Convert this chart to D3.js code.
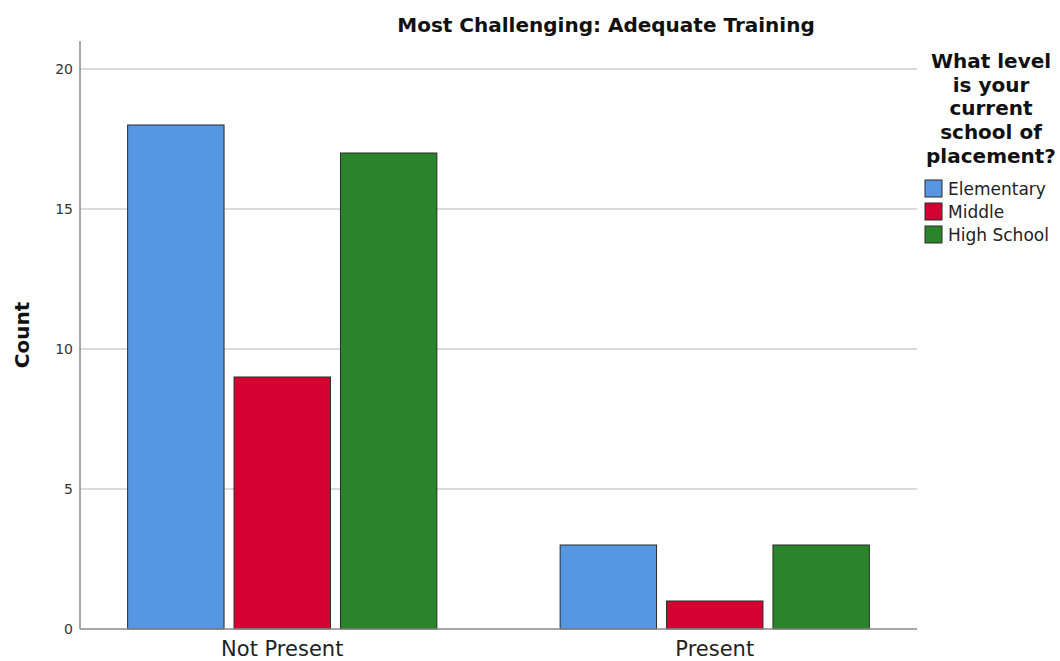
<!DOCTYPE html>
<html>
<head>
<meta charset="utf-8">
<script src="https://cdn.jsdelivr.net/npm/d3@7"></script>
<style>
  body { margin: 0; background: #fff; }
  svg { display: block; font-family: "DejaVu Sans", sans-serif; }
</style>
</head>
<body>
<div id="chart"></div>
<script>
// data
const categories = ['Not Present', 'Present'];
const levels = ['Elementary', 'Middle', 'High School'];
const elementary = [18, 3];
const middle = [9, 1];
const highSchool = [17, 3];
const yTicks = [0, 5, 10, 15, 20];
const colors = ['#5597e3', '#d50032', '#2a852a'];

const series = [elementary, middle, highSchool];
const rows = categories.map((c, i) => ({
  cat: c,
  vals: levels.map((l, j) => ({ level: l, value: series[j][i] }))
}));

const W = 1060, H = 661;
const axisLeft = 80, axisRight = 917, axisTop = 41, axisBottom = 629;

const svg = d3.select('#chart')
  .append('svg')
  .attr('width', W)
  .attr('height', H);

const y = d3.scaleLinear()
  .domain([0, 21])
  .range([axisBottom, axisTop]);

const x = d3.scaleBand()
  .domain(categories)
  .range([66, 931])
  .paddingInner(0.285)
  .paddingOuter(0.1425);

const xSub = d3.scaleBand()
  .domain(levels)
  .range([0, x.bandwidth()])
  .paddingInner(0.094);

const color = d3.scaleOrdinal().domain(levels).range(colors);

// gridlines
svg.append('g')
  .selectAll('line')
  .data(yTicks.filter(d => d > 0))
  .enter()
  .append('line')
  .attr('x1', axisLeft)
  .attr('x2', axisRight)
  .attr('y1', d => y(d))
  .attr('y2', d => y(d))
  .attr('stroke', '#cfcfcf')
  .attr('stroke-width', 1.5);

// bars
svg.append('g')
  .selectAll('g')
  .data(rows)
  .enter()
  .append('g')
  .attr('transform', d => 'translate(' + x(d.cat) + ',0)')
  .selectAll('rect')
  .data(d => d.vals)
  .enter()
  .append('rect')
  .attr('x', d => xSub(d.level))
  .attr('y', d => y(d.value))
  .attr('width', xSub.bandwidth())
  .attr('height', d => y(0) - y(d.value))
  .attr('fill', d => color(d.level))
  .attr('stroke', '#2b2b2b')
  .attr('stroke-width', 1);

// axes lines
svg.append('line')
  .attr('x1', axisLeft).attr('x2', axisLeft)
  .attr('y1', axisTop).attr('y2', axisBottom)
  .attr('stroke', '#8a8a8a').attr('stroke-width', 1.5);
svg.append('line')
  .attr('x1', axisLeft).attr('x2', axisRight)
  .attr('y1', axisBottom).attr('y2', axisBottom)
  .attr('stroke', '#8a8a8a').attr('stroke-width', 1.5);

// y tick labels
svg.append('g')
  .selectAll('text')
  .data(yTicks)
  .enter()
  .append('text')
  .attr('x', 73)
  .attr('y', d => y(d) + 5)
  .attr('text-anchor', 'end')
  .attr('font-size', 14)
  .attr('fill', '#333')
  .text(d => d);

// x labels
svg.append('g')
  .selectAll('text')
  .data(categories)
  .enter()
  .append('text')
  .attr('x', d => x(d) + x.bandwidth() / 2)
  .attr('y', 656)
  .attr('text-anchor', 'middle')
  .attr('font-size', 21)
  .attr('fill', '#222')
  .text(d => d);

// title
svg.append('text')
  .attr('x', 606)
  .attr('y', 32)
  .attr('text-anchor', 'middle')
  .attr('font-size', 20)
  .attr('font-weight', 'bold')
  .attr('fill', '#111')
  .text('Most Challenging: Adequate Training');

// y axis title
svg.append('text')
  .attr('transform', 'translate(29,335) rotate(-90)')
  .attr('text-anchor', 'middle')
  .attr('font-size', 20)
  .attr('font-weight', 'bold')
  .attr('fill', '#111')
  .text('Count');

// legend
const legendTitle = ['What level', 'is your', 'current', 'school of', 'placement?'];
svg.append('g')
  .selectAll('text')
  .data(legendTitle)
  .enter()
  .append('text')
  .attr('x', 991)
  .attr('y', (d, i) => 68 + i * 23.7)
  .attr('text-anchor', 'middle')
  .attr('font-size', 20)
  .attr('font-weight', 'bold')
  .attr('fill', '#111')
  .text(d => d);

const legend = svg.append('g')
  .selectAll('g')
  .data(levels)
  .enter()
  .append('g')
  .attr('transform', (d, i) => 'translate(925,' + (180 + i * 23) + ')');
legend.append('rect')
  .attr('width', 17)
  .attr('height', 17)
  .attr('fill', d => color(d))
  .attr('stroke', '#2b2b2b');
legend.append('text')
  .attr('x', 23)
  .attr('y', 15)
  .attr('font-size', 17)
  .attr('fill', '#222')
  .text(d => d);
</script>
</body>
</html>
